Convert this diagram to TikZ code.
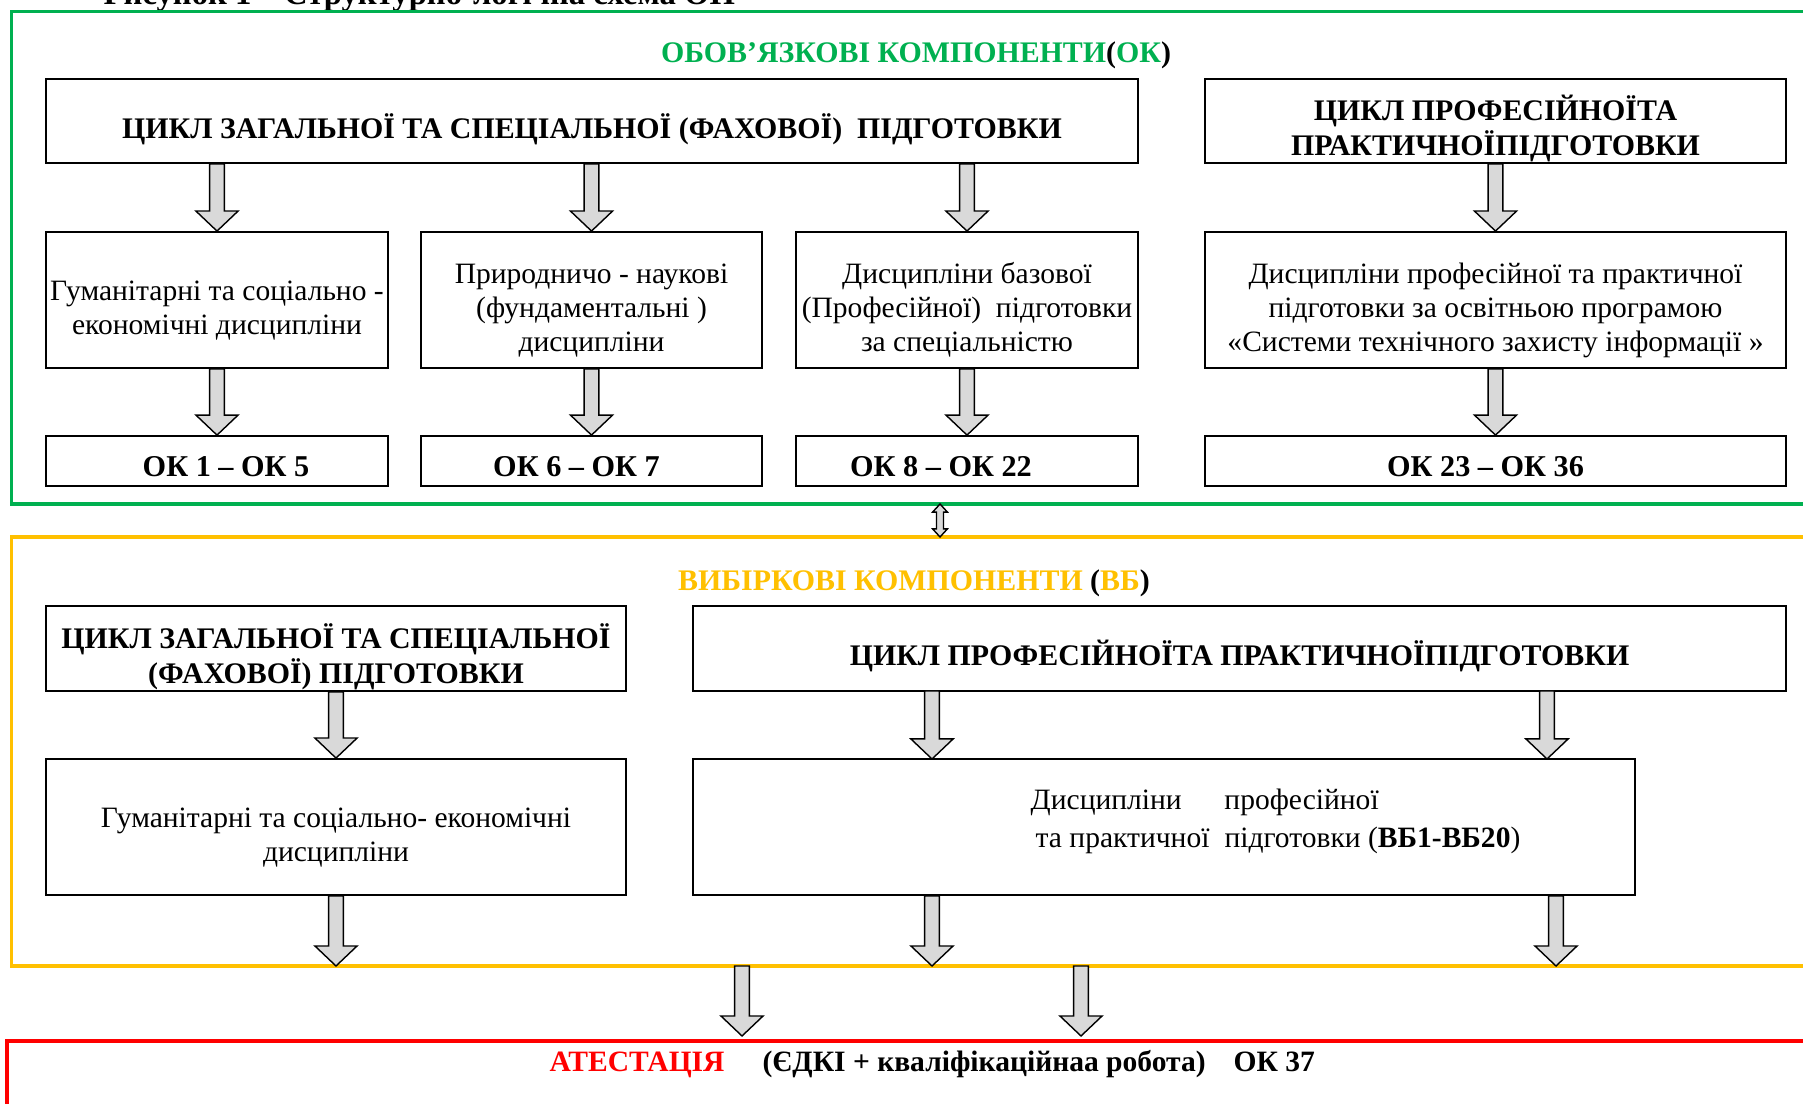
\documentclass[tikz,border=0pt]{standalone}
\usepackage{fontspec}
\setmainfont{Liberation Serif}
\usetikzlibrary{calc}

\definecolor{okgreen}{HTML}{00B050}
\definecolor{vbyellow}{HTML}{FFC000}
\definecolor{atred}{HTML}{FF0000}
\definecolor{arrowgray}{HTML}{D9D9D9}

% struts that push the box texts a little down, as in the scheme
\newcommand{\upstrut}{\rule{0pt}{11.6pt}}
\newcommand{\okstrut}{\rule{0pt}{9.1pt}}

\tikzset{
  box/.style={draw, line width=0.5pt, fill=white, inner sep=1pt, align=center,
    font=\fontsize{8.4}{9.7}\selectfont},
  headbox/.style={box, inner ysep=0pt, font=\bfseries\fontsize{8.5}{10}\selectfont},
  okbox/.style={box, font=\bfseries\fontsize{8.6}{10}\selectfont},
  fatarrow/.style={draw, line width=0.4pt, fill=arrowgray},
  frame/.style={line width=0.9pt},
  sectitle/.style={font=\bfseries\fontsize{8.5}{10}\selectfont},
}

% block arrow from #1 down to #2 (same x)
\newcommand{\fatarrowline}[2]{%
  \draw[fatarrow] let \p1=(#1), \p2=(#2) in
    (\x1-2.1pt,\y1) -- (\x1+2.1pt,\y1) -- (\x1+2.1pt,\y2+5.7pt) -- (\x1+6pt,\y2+5.7pt)
    -- (\x1,\y2) -- (\x1-6pt,\y2+5.7pt) -- (\x1-2.1pt,\y2+5.7pt) -- cycle;}

\begin{document}
\begin{tikzpicture}[x=0.01cm, y=-0.01cm]
\useasboundingbox (0,0) rectangle (1803,1104);

% caption, cut at the top
\node[anchor=base west, inner sep=0pt, font=\bfseries\fontsize{9.3}{11}\selectfont] (caption) at (103,5) {Рисунок 1 – Структурно-логічна схема ОП};

% frames
\draw[frame, draw=okgreen] (11.5,11.5) rectangle (1830,504);
\draw[frame, draw=vbyellow] (11.5,537) rectangle (1830,966);
\draw[frame, draw=atred] (7,1041) rectangle (1830,1130);

% ---- obligatory part
\node[sectitle] (oktitle) at (916,55) {\textcolor{okgreen}{ОБОВ’ЯЗКОВІ КОМПОНЕНТИ}(\textcolor{okgreen}{ОК})};

\node[headbox, minimum width=10.92cm, minimum height=0.84cm] (cycle1) at (592,121) {\upstrut ЦИКЛ ЗАГАЛЬНОЇ ТА СПЕЦІАЛЬНОЇ (ФАХОВОЇ)\ \ ПІДГОТОВКИ};
\node[headbox, minimum width=5.81cm, minimum height=0.84cm] (cycle2) at (1495.5,121) {\upstrut ЦИКЛ ПРОФЕСІЙНОЇТА\\ПРАКТИЧНОЇПІДГОТОВКИ};

\node[box, minimum width=3.42cm, minimum height=1.36cm] (humA) at (217,300) {\upstrut Гуманітарні та соціально -\\економічні дисципліни};
\node[box, minimum width=3.41cm, minimum height=1.36cm] (natB) at (591.5,300) {\upstrut Природничо - наукові\\(фундаментальні )\\дисципліни};
\node[box, minimum width=3.42cm, minimum height=1.36cm] (basC) at (967,300) {\upstrut Дисципліни базової\\(Професійної)\ \ підготовки\\за спеціальністю};
\node[box, minimum width=5.81cm, minimum height=1.36cm] (proD) at (1495.5,300) {\upstrut Дисципліни професійної та практичної\\підготовки за освітньою програмою\\«Системи технічного захисту інформації »};

\node[okbox, minimum width=3.42cm, minimum height=0.5cm] (okA) at (217,461) {\okstrut\hspace*{0.18cm}ОК 1 – ОК 5};
\node[okbox, minimum width=3.41cm, minimum height=0.5cm] (okB) at (591.5,461) {\okstrut ОК 6 – ОК 7\hspace*{0.3cm}};
\node[okbox, minimum width=3.42cm, minimum height=0.5cm] (okC) at (967,461) {\okstrut ОК 8 – ОК 22\hspace*{0.52cm}};
\node[okbox, minimum width=5.81cm, minimum height=0.5cm] (okD) at (1495.5,461) {\okstrut ОК 23 – ОК 36\hspace*{0.2cm}};

\fatarrowline{humA.north |- cycle1.south}{humA.north}
\fatarrowline{natB.north |- cycle1.south}{natB.north}
\fatarrowline{basC.north |- cycle1.south}{basC.north}
\fatarrowline{proD.north |- cycle2.south}{proD.north}
\fatarrowline{humA.south}{okA.north}
\fatarrowline{natB.south}{okB.north}
\fatarrowline{basC.south}{okC.north}
\fatarrowline{proD.south}{okD.north}

% link between the parts
\coordinate (linktop) at (940,504);
\coordinate (linkbot) at (940,537);
\draw[fatarrow] let \p1=(linktop), \p2=(linkbot) in
  (\x1,\y1) -- (\x1+2.1pt,\y1-2.3pt) -- (\x1+1pt,\y1-2.3pt) -- (\x1+1pt,\y2+2.3pt) -- (\x1+2.1pt,\y2+2.3pt)
  -- (\x1,\y2) -- (\x1-2.1pt,\y2+2.3pt) -- (\x1-1pt,\y2+2.3pt) -- (\x1-1pt,\y1-2.3pt) -- (\x1-2.1pt,\y1-2.3pt) -- cycle;

% ---- elective part
\node[sectitle] (vbtitle) at (914,583) {\textcolor{vbyellow}{ВИБІРКОВІ КОМПОНЕНТИ} (\textcolor{vbyellow}{ВБ})};

\node[headbox, minimum width=5.80cm, minimum height=0.85cm] (cycle3) at (336,648.5) {\upstrut ЦИКЛ ЗАГАЛЬНОЇ ТА СПЕЦІАЛЬНОЇ\\(ФАХОВОЇ) ПІДГОТОВКИ};
\node[headbox, minimum width=10.93cm, minimum height=0.85cm] (cycle4) at (1239.5,648.5) {\upstrut ЦИКЛ ПРОФЕСІЙНОЇТА ПРАКТИЧНОЇПІДГОТОВКИ};

\node[box, minimum width=5.80cm, minimum height=1.36cm] (humE) at (336,827) {\upstrut Гуманітарні та соціально- економічні\\дисципліни};
\node[box, minimum width=9.42cm, minimum height=1.36cm] (proF) at (1164,827) {};
\node[anchor=west, inner sep=0pt, font=\fontsize{8.4}{10.6}\selectfont] (proFtext) at (1030,821)
  {\begin{tabular}{@{}l@{\hspace{0.15cm}}l@{}}Дисципліни & професійної\\ \hspace*{0.05cm}та практичної & підготовки (\textbf{ВБ1-ВБ20})\end{tabular}};

\coordinate (p1top) at (932,691);
\coordinate (p1bot) at (932,759);
\coordinate (p2top) at (1547,691);
\coordinate (p2bot) at (1547,759);
\coordinate (outE) at (336,966);
\coordinate (outF1) at (932,966);
\coordinate (outF2) at (1556,966);

\fatarrowline{humE.north |- cycle3.south}{humE.north}
\fatarrowline{p1top}{p1bot}
\fatarrowline{p2top}{p2bot}
\fatarrowline{humE.south}{outE}
\fatarrowline{outF1 |- proF.south}{outF1}
\fatarrowline{outF2 |- proF.south}{outF2}

% ---- attestation
\coordinate (in1top) at (742,966);
\coordinate (in1bot) at (742,1036);
\coordinate (in2top) at (1081,966);
\coordinate (in2bot) at (1081,1036);
\fatarrowline{in1top}{in1bot}
\fatarrowline{in2top}{in2bot}

\node[anchor=west, inner sep=0pt, font=\bfseries\fontsize{8.4}{10}\selectfont] (atest) at (549,1064)
  {\textcolor{atred}{АТЕСТАЦІЯ}\hspace{0.38cm}(ЄДКІ + кваліфікаційнаа робота)\hspace{0.28cm}ОК 37};
\end{tikzpicture}
\end{document}
